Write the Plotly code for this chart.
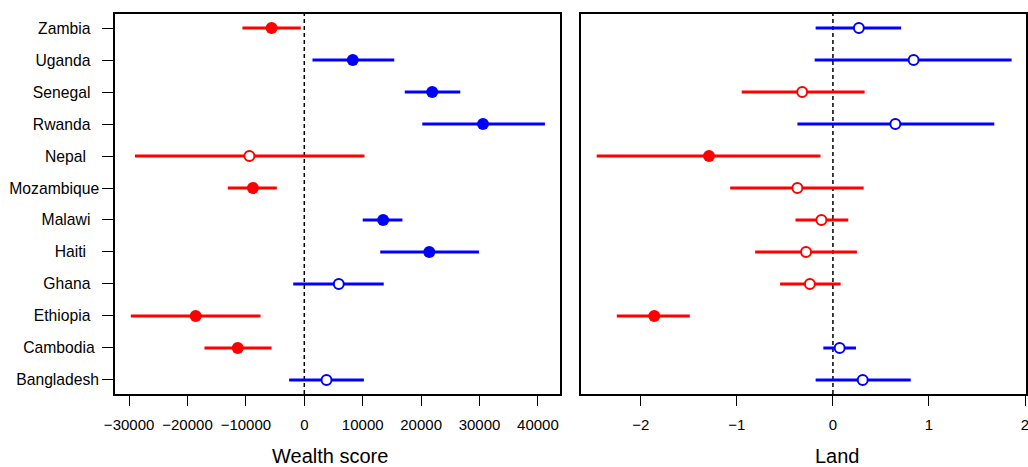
import plotly.graph_objects as go

countries = ["Zambia", "Uganda", "Senegal", "Rwanda", "Nepal", "Mozambique",
             "Malawi", "Haiti", "Ghana", "Ethiopia", "Cambodia", "Bangladesh"]

wealth_est = [-5600, 8300, 21900, 30600, -9400, -8800, 13500, 21400, 5900, -18600, -11400, 3800]
wealth_lo = [-10600, 1400, 17200, 20200, -29000, -13100, 10000, 13000, -1900, -29700, -17100, -2600]
wealth_hi = [-600, 15400, 26700, 41200, 10300, -4700, 16800, 29900, 13600, -7500, -5600, 10200]

land_est = [0.27, 0.84, -0.32, 0.65, -1.29, -0.37, -0.12, -0.28, -0.24, -1.86, 0.07, 0.31]
land_lo = [-0.18, -0.19, -0.95, -0.37, -2.46, -1.07, -0.39, -0.81, -0.55, -2.25, -0.10, -0.18]
land_hi = [0.71, 1.86, 0.33, 1.68, -0.13, 0.32, 0.16, 0.25, 0.08, -1.49, 0.24, 0.81]

wealth_ticks = [-30000, -20000, -10000, 0, 10000, 20000, 30000, 40000]
land_ticks = [-2, -1, 0, 1, 2]

# trailing padding (in spaces) for the y labels, as in the original layout
label_pad = [2, 2, 2, 2, 3, 0, 2, 3, 2, 2, 1, 0]

RED = "#FF0000"
BLUE = "#0000FF"
FONT = "Liberation Sans, Arial, Helvetica, sans-serif"

fig = go.Figure()


def add_panel(est, lo, hi, xa, ya):
    for color, sign in ((RED, -1), (BLUE, 1)):
        idx = [i for i in range(len(est)) if (est[i] < 0) == (sign < 0)]
        xs, ys = [], []
        for i in idx:
            xs += [lo[i], hi[i], None]
            ys += [countries[i], countries[i], None]
        fig.add_trace(go.Scatter(x=xs, y=ys, mode="lines", xaxis=xa, yaxis=ya,
                                 line=dict(color=color, width=3), showlegend=False,
                                 hoverinfo="skip"))
        filled = [i for i in idx if lo[i] > 0 or hi[i] < 0]
        open_ = [i for i in idx if not (lo[i] > 0 or hi[i] < 0)]
        fig.add_trace(go.Scatter(x=[est[i] for i in filled], y=[countries[i] for i in filled],
                                 mode="markers", xaxis=xa, yaxis=ya, showlegend=False,
                                 marker=dict(symbol="circle", size=12, color=color,
                                             line=dict(width=0))))
        fig.add_trace(go.Scatter(x=[est[i] for i in open_], y=[countries[i] for i in open_],
                                 mode="markers", xaxis=xa, yaxis=ya, showlegend=False,
                                 marker=dict(symbol="circle", size=10, color="white",
                                             line=dict(width=2, color=color))))


add_panel(wealth_est, wealth_lo, wealth_hi, "x", "y")
add_panel(land_est, land_lo, land_hi, "x2", "y2")

cat_order = list(reversed(countries))
ticktext = [c + "\u00a0" * p for c, p in zip(countries, label_pad)]

axis_common = dict(showline=True, linecolor="black", linewidth=1.5, mirror=True,
                   showgrid=False, zeroline=False)

fig.update_layout(
    width=1028, height=467,
    margin=dict(l=115, r=2, t=14, b=73, autoexpand=False),
    paper_bgcolor="white", plot_bgcolor="white",
    font=dict(family=FONT, size=15, color="black"),
    xaxis=dict(domain=[0, 0.4885], range=[-32414, 43784], tickvals=wealth_ticks,
               tickformat="d", ticks="outside", ticklen=10, tickwidth=1.2,
               tickcolor="black", tickfont=dict(size=15), ticklabelstandoff=6,
               anchor="y", **axis_common),
    xaxis2=dict(domain=[0.5115, 1], range=[-2.623, 2.01], tickvals=land_ticks,
                tickformat="d", ticks="outside", ticklen=10, tickwidth=1.2,
                tickcolor="black", tickfont=dict(size=15), ticklabelstandoff=6,
                ticklabeloverflow="allow", anchor="y2", **axis_common),
    yaxis=dict(type="category", categoryorder="array", categoryarray=cat_order,
               range=[-0.44, 11.44], tickvals=countries, ticktext=ticktext,
               ticks="outside", ticklen=11, tickwidth=1.2, tickcolor="black",
               tickfont=dict(size=15.7), anchor="x", **axis_common),
    yaxis2=dict(type="category", categoryorder="array", categoryarray=cat_order,
                range=[-0.44, 11.44], showticklabels=False, ticks="",
                anchor="x2", **axis_common),
)

fig.add_shape(type="line", xref="x", yref="y domain", x0=0, x1=0, y0=0, y1=1,
              line=dict(color="black", width=1.5, dash="4px,3px"), layer="below")
fig.add_shape(type="line", xref="x2", yref="y2 domain", x0=0, x1=0, y0=0, y1=1,
              line=dict(color="black", width=1.5, dash="4px,3px"), layer="below")

# axis titles (paper coords relative to the plotting area)
fig.add_annotation(text="Wealth score", xref="paper", yref="paper", x=0.236, y=-0.163,
                   xanchor="center", yanchor="middle", showarrow=False,
                   font=dict(size=20, family=FONT))
fig.add_annotation(text="Land", xref="paper", yref="paper", x=0.793, y=-0.163,
                   xanchor="center", yanchor="middle", showarrow=False,
                   font=dict(size=20, family=FONT))

# remove the default page margin so the figure sits exactly in the window
fig.write_html("out.html",
               config={"displayModeBar": False},
               post_script="document.body.style.margin='0';"
                           "document.body.style.overflow='hidden';")
